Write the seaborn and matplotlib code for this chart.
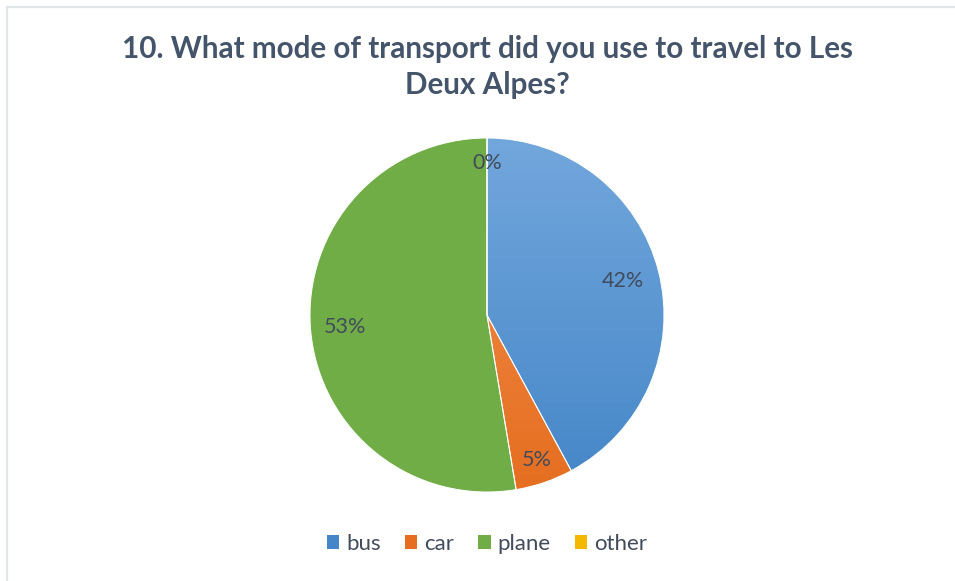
import numpy as np
import matplotlib
matplotlib.use("Agg")
import matplotlib.pyplot as plt
from matplotlib.lines import Line2D
from matplotlib.patches import Patch
from matplotlib.colors import LinearSegmentedColormap
import seaborn as sns

# Survey answers
modes = ["bus", "car", "plane", "other"]
counts = [8, 1, 10, 0]
title = "10. What mode of transport did you use to travel to Les\nDeux Alpes?"

# Fill colours (top, bottom of the vertical gradient)
top_colors = ["#72a7dc", "#f39050", "#70ad47", "#ffc72a"]
bottom_colors = ["#4586c8", "#e56e20", "#70ad47", "#f5b800"]
label_radius = [0.79, 0.865, 0.805, 0.86]

sns.set_theme(style="white")
plt.rcParams["font.family"] = ["Lato", "DejaVu Sans"]

W, H = 955, 581
fig = plt.figure(figsize=(W / 100, H / 100), dpi=100)
fig.patch.set_facecolor("white")

cx, cy, r = 487, 315, 177
ax = fig.add_axes([(cx - r) / W, (H - cy - r) / H, 2 * r / W, 2 * r / H])
wedges, _ = ax.pie(counts, startangle=90, counterclock=False, radius=1,
                   colors=bottom_colors,
                   wedgeprops=dict(edgecolor="white", linewidth=0.7))
ax.set_xlim(-1, 1)
ax.set_ylim(-1, 1)
ax.set_aspect("equal")
ax.axis("off")

# vertical gradient inside every slice
grad = np.linspace(0, 1, 256).reshape(-1, 1)
for w, c_top, c_bot in zip(wedges, top_colors, bottom_colors):
    cmap = LinearSegmentedColormap.from_list("g", [c_top, c_bot])
    im = ax.imshow(grad, extent=[-1, 1, -1, 1], origin="upper", cmap=cmap,
                   aspect="auto", zorder=w.get_zorder() + 0.1)
    im.set_clip_path(w)
    w.set_zorder(w.get_zorder() + 0.2)
    w.set_facecolor("none")

# percentage labels
total = sum(counts)
theta0 = 90.0
acc = 0
for val, rf in zip(counts, label_radius):
    mid = theta0 - 360.0 * (acc + val / 2) / total
    acc += val
    x = rf * np.cos(np.radians(mid))
    y = rf * np.sin(np.radians(mid))
    ax.text(x, y, f"{round(100 * val / total):.0f}%", ha="center", va="center",
            fontsize=15.5, color="#414b5c", zorder=10)

fig.text(cx / W, 1 - 67 / H, title, ha="center", va="center",
         fontsize=21.3, fontweight="bold", color="#44546a", linespacing=1.32)

handles = [Patch(facecolor=bottom_colors[i], edgecolor="none") for i in range(4)]
leg = fig.legend(handles, modes, loc="center", bbox_to_anchor=(cx / W, 1 - 544 / H),
                 ncol=4, frameon=False, fontsize=16, handlelength=0.55,
                 handleheight=0.55, handletextpad=0.3, columnspacing=1.1)
for t in leg.get_texts():
    t.set_color("#414b5c")

# chart area border (top and left edges)
fig.add_artist(Line2D([6.5 / W, 6.5 / W], [0, 1 - 6.5 / H], transform=fig.transFigure,
                      color="#e2e5e8", linewidth=1.6))
fig.add_artist(Line2D([6.5 / W, 1], [1 - 6.5 / H, 1 - 6.5 / H], transform=fig.transFigure,
                      color="#e2e5e8", linewidth=1.6))

fig.savefig("out.png", dpi=100, facecolor="white")
